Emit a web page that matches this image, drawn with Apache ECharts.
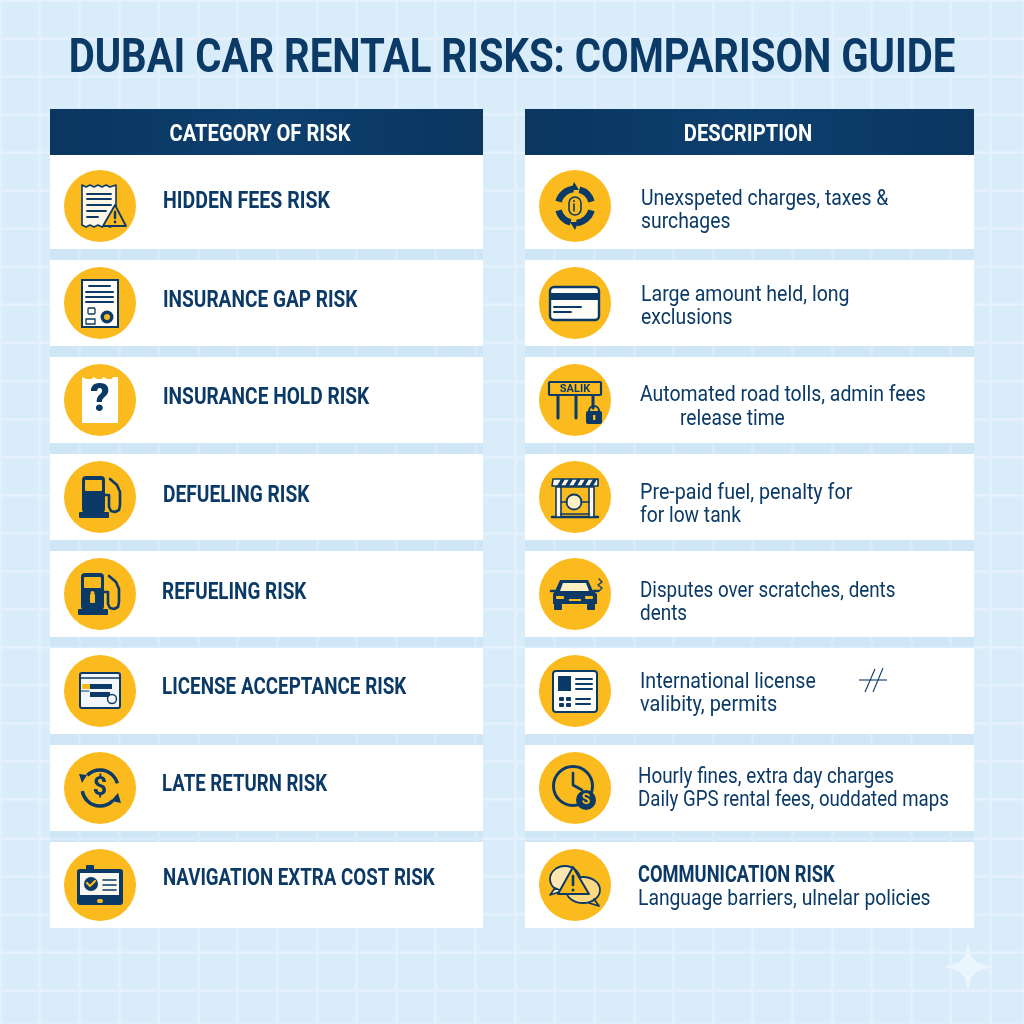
<!DOCTYPE html>
<html>
<head>
<meta charset="utf-8">
<title>Dubai Car Rental Risks</title>
<style>
html, body { margin: 0; padding: 0; background: #d8ecfa; }
#main { width: 1024px; height: 1024px; }
</style>
<script src="https://cdn.jsdelivr.net/npm/echarts@6/dist/echarts.min.js"></script>
</head>
<body>
<div id="main"></div>
<script>
var chartTitle = 'DUBAI CAR RENTAL RISKS: COMPARISON GUIDE';
var leftHeader = 'CATEGORY OF RISK';
var rightHeader = 'DESCRIPTION';

var riskCategories = [
    'HIDDEN FEES RISK',
    'INSURANCE GAP RISK',
    'INSURANCE HOLD RISK',
    'DEFUELING RISK',
    'REFUELING RISK',
    'LICENSE ACCEPTANCE RISK',
    'LATE RETURN RISK',
    'NAVIGATION EXTRA COST RISK'
];
var descriptionFirstLines = [
    'Unexspeted charges, taxes &',
    'Large amount held, long',
    'Automated road tolls, admin fees',
    'Pre-paid fuel, penalty for',
    'Disputes over scratches, dents',
    'International license',
    'Hourly fines, extra day charges',
    'COMMUNICATION RISK'
];
var descriptionSecondLines = [
    'surchages',
    'exclusions',
    'release time',
    'for low tank',
    'dents',
    'valibity, permits',
    'Daily GPS rental fees, ouddated maps',
    'Language barriers, ulnelar policies'
];
var leftIcons = ['receipt', 'policy', 'question', 'pump', 'pump2', 'card', 'money', 'device'];
var rightIcons = ['target', 'credit', 'salik', 'barrier', 'car', 'idcard', 'clock', 'chat'];

// text offsets of each row (pixels from the row centre / column left)
var leftTextX = [113, 113, 113, 113, 112, 112, 112, 113];
var leftTextDy = [-4, -2, -2, -1, -1, -3, -3, -6];
var leftTextScale = [0.85, 0.83, 0.832, 0.834, 0.823, 0.82, 0.81, 0.813];
var rightFirstDy = [-6, -7, -4, -3, -2, -8, -10, -9];
var rightSecondDy = [17, 16, 20, 20, 21, 15, 13, 15];
var rightFirstX = [116, 116, 115, 115, 115, 115, 113, 113];
var rightSecondX = [116, 116, 155, 115, 115, 115, 113, 113];
var rightFirstScale = [0.90, 0.908, 0.904, 0.916, 0.874, 0.91, 0.877, 0.795];
var rightSecondScale = [0.90, 0.90, 0.894, 0.895, 0.88, 0.925, 0.868, 0.897];

var NAVY = '#0b3a66';
var YELLOW = '#fbbb1f';
var WHITE = '#ffffff';
var FONT = 'Roboto';

function R(x, y, w, h, fill, stroke, lw, r) {
    return { type: 'rect', shape: { x: x, y: y, width: w, height: h, r: r || 0 },
        style: { fill: fill || 'none', stroke: stroke || 'none', lineWidth: lw || 0 } };
}
function C(cx, cy, r, fill, stroke, lw) {
    return { type: 'circle', shape: { cx: cx, cy: cy, r: r },
        style: { fill: fill || 'none', stroke: stroke || 'none', lineWidth: lw || 0 } };
}
function L(x1, y1, x2, y2, lw, color) {
    return { type: 'line', shape: { x1: x1, y1: y1, x2: x2, y2: y2 },
        style: { stroke: color || NAVY, lineWidth: lw || 2, lineCap: 'round' } };
}
function PG(points, fill, stroke, lw) {
    return { type: 'polygon', shape: { points: points },
        style: { fill: fill || 'none', stroke: stroke || 'none', lineWidth: lw || 0, lineJoin: 'round' } };
}
function PL(points, lw, color, smooth) {
    return { type: 'polyline', shape: { points: points, smooth: smooth || 0 },
        style: { fill: 'none', stroke: color || NAVY, lineWidth: lw || 2, lineCap: 'round', lineJoin: 'round' } };
}
function A(cx, cy, r, from, to, lw, color) {
    return { type: 'arc', shape: { cx: cx, cy: cy, r: r, startAngle: from * Math.PI / 180, endAngle: to * Math.PI / 180, clockwise: true },
        style: { fill: 'none', stroke: color || NAVY, lineWidth: lw || 2 } };
}
function T(x, y, text, size, weight, fill, scale, align) {
    return { type: 'text', x: x, y: y, scaleX: scale || 1,
        style: { text: text, fontSize: size, fontWeight: weight, fontFamily: FONT, fill: fill || NAVY,
            align: align || 'left', verticalAlign: 'middle', textAlign: align || 'left', textVerticalAlign: 'middle' } };
}

function pumpIcon(dx, detail) {
    var out = [
        R(dx - 18, -21, 23, 37, NAVY, null, 0, 4),
        R(dx - 21, 15, 30, 6, NAVY, null, 0, 1),
        R(dx - 15, -17, 17, 11, YELLOW, null, 0, 1),
        PL([[dx + 5, -2], [dx + 9, -2], [dx + 9, 10], [dx + 11, 14], [dx + 15, 15], [dx + 19, 13], [dx + 20, 8], [dx + 20, -5], [dx + 17, -12], [dx + 10, -18]], 2.6)
    ];
    if (detail) {
        out.push(R(dx - 9, 0, 5, 9, YELLOW, null, 0, 1));
        out.push(C(dx - 6.5, -1, 2, YELLOW));
    }
    return out;
}

var iconDraw = {
    receipt: function () {
        return [
            PG([[-18, -21], [-14, -19], [-10, -21], [-6, -19], [-2, -21], [2, -19], [6, -21], [10, -19], [16, -21], [16, 19], [10, 21], [6, 19], [2, 21], [-2, 19], [-6, 21], [-10, 19], [-14, 21], [-18, 19]], '#fff8e8', NAVY, 1.6),
            L(-13, -12, 11, -12, 1.8), L(-13, -7, 11, -7, 1.8), L(-13, -1, 11, -1, 1.8), L(-13, 5, 6, 5, 1.8), L(-13, 11, -2, 11, 1.8),
            PG([[15, -1], [26, 20], [3, 20]], YELLOW, NAVY, 1.8),
            L(15, 6, 15, 12, 2.4), C(15, 16, 1.4, NAVY)
        ];
    },
    policy: function () {
        return [
            R(-18, -23, 36, 47, '#fffdf8', NAVY, 2),
            L(-11, -17, 10, -17, 2), L(-14, -11, 13, -11, 2), L(-14, -6, 13, -6, 2), L(-14, -1, 13, -1, 2),
            R(-12, 5, 7, 6, null, NAVY, 1.3, 1), R(-14, 16, 9, 5, null, NAVY, 1.3),
            C(7, 14, 6.5, NAVY), C(7, 14, 3, YELLOW)
        ];
    },
    question: function () {
        return [
            PG([[-18, -23], [-14, -21], [-8, -21], [-7, -23], [-3, -21], [2, -21], [3, -23], [7, -21], [12, -21], [13, -23], [18, -23], [18, 23], [-18, 23]], WHITE),
            T(0, 1, '?', 38, 900, NAVY, 1, 'center')
        ];
    },
    pump: function () { return pumpIcon(0, false); },
    pump2: function () { return pumpIcon(-1, true); },
    card: function () {
        return [
            R(-20, -18, 40, 35, '#f2f5fa', NAVY, 2, 2),
            L(-19, -13, 19, -13, 1.6),
            R(-18, -7, 8, 5, YELLOW),
            R(-10, -7, 22, 5, NAVY),
            R(-10, 1, 20, 5, NAVY),
            C(12, 8, 4.5, '#f2f5fa', NAVY, 1.4),
            L(-19, 0, -11, 0, 1)
        ];
    },
    money: function () {
        return [
            A(0, 0, 18, 225, 345, 3.4),
            A(0, 0, 18, 45, 170, 3.4),
            PG([[-18, -5], [-13, -13], [-21, -14]], NAVY),
            PG([[18, 5], [11, 13], [21, 15]], NAVY),
            T(0, 1, '$', 25, 700, NAVY, 1, 'center')
        ];
    },
    device: function () {
        return [
            R(-14, -20, 8, 6, NAVY, null, 0, 1),
            R(-23, -16, 46, 36, NAVY, null, 0, 3),
            R(-20, -12, 39, 22, '#f8f7f0'),
            C(-9, -1, 7, NAVY),
            PL([[-13, -2], [-10, 1], [-5, -4]], 2.2, YELLOW),
            L(3, -5, 16, -5, 1.6), L(3, 0, 16, 0, 1.6), L(3, 5, 16, 5, 1.6),
            R(-3, 14, 6, 4, YELLOW, null, 0, 2)
        ];
    },
    target: function () {
        return [
            A(0, 0, 17, 195, 265, 6.5), A(0, 0, 17, 285, 345, 6.5), A(0, 0, 17, 15, 85, 6.5), A(0, 0, 17, 105, 165, 6.5),
            PG([[-1, -24], [4, -16], [-4, -16]], NAVY),
            PG([[0, 24], [-5, 16], [3, 16]], NAVY),
            L(-21, 0, -11, 0, 1.6, YELLOW), L(11, 0, 21, 0, 1.6, YELLOW),
            R(-6, -9, 12, 18, YELLOW, NAVY, 1.6, 6),
            L(-1, -2, -1, 5, 1.6), C(-1, -5, 1, NAVY)
        ];
    },
    credit: function () {
        return [
            R(-25, -16, 49, 33, '#fffdf8', NAVY, 2.4, 4),
            R(-24, -10, 47, 7, NAVY),
            L(-21, 4, 6, 4, 2), L(-21, 9, -4, 9, 2)
        ];
    },
    salik: function () {
        return [
            L(-17, -5, -17, 18, 3), L(1, -5, 1, 18, 3), L(18, -5, 18, 8, 3),
            R(-26, -18, 52, 13, YELLOW, NAVY, 2.2, 1),
            T(0, -11, 'SALIK', 11, 700, NAVY, 1, 'center'),
            A(19, 11, 5, 180, 360, 2),
            R(11, 11, 16, 13, NAVY, null, 0, 2),
            R(18, 15, 2.4, 5, YELLOW)
        ];
    },
    barrier: function () {
        var out = [
            L(-23, 20, 23, 20, 2.4),
            R(-19, -10, 5, 30, '#fff8e8', NAVY, 1.6),
            R(14, -10, 5, 30, '#fff8e8', NAVY, 1.6),
            L(-14, -10, 14, -10, 1.6),
            L(-14, 17, 14, 17, 1.6),
            C(-1, 5, 7.5, '#fff1c4', NAVY, 1.8),
            L(-14, 5, -8, 5, 1.6), L(6, 5, 14, 5, 1.6),
            PG([[-22, -18], [23, -18], [23, -11], [-23, -11]], '#fff8e8', NAVY, 1.6)
        ];
        var stripeX = [-18, -10, -2, 6, 14];
        for (var i = 0; i < stripeX.length; i++) {
            out.push(PG([[stripeX[i], -11], [stripeX[i] + 4, -11], [stripeX[i] + 8, -18], [stripeX[i] + 4, -18]], NAVY));
        }
        return out;
    },
    car: function () {
        return [
            PG([[-15, -14], [13, -14], [18, -3], [22, 0], [22, 10], [-22, 10], [-22, 0], [-20, -3]], NAVY),
            PG([[-12, -11], [11, -11], [14, -3], [-15, -3]], '#fff1c4'),
            R(-21, 10, 8, 6, NAVY, null, 0, 1),
            R(12, 10, 8, 6, NAVY, null, 0, 1),
            L(-24, -3, -20, -3, 2.6), L(19, -3, 23, -3, 2.6),
            R(-19, 2, 8, 3, YELLOW, null, 0, 1),
            R(10, 2, 8, 3, YELLOW, null, 0, 1),
            R(-6, 5, 12, 2, YELLOW),
            PL([[24, -15], [27, -12], [23, -9], [27, -6], [24, -3]], 1.4)
        ];
    },
    idcard: function () {
        return [
            R(-22, -20, 44, 41, '#fffdf8', NAVY, 2, 3),
            R(-17, -15, 13, 15, NAVY),
            L(1, -12, 17, -12, 2), L(1, -7, 17, -7, 2), L(1, -2, 17, -2, 2),
            R(-16, 6, 5, 4, NAVY, null, 0, 1), R(-9, 6, 5, 4, NAVY, null, 0, 1),
            R(-16, 12, 5, 4, NAVY, null, 0, 1), R(-9, 12, 5, 4, NAVY, null, 0, 1),
            L(1, 8, 15, 8, 2), L(1, 13, 15, 13, 2)
        ];
    },
    clock: function () {
        return [
            C(-2, -2, 19.5, null, NAVY, 3),
            PL([[-2, -15], [-2, -3], [7, 2]], 2.6),
            C(11, 12, 10, NAVY),
            T(11, 12.5, 'S', 14, 700, YELLOW, 1, 'center')
        ];
    },
    chat: function () {
        return [
            { type: 'ellipse', shape: { cx: 8, cy: 5, rx: 17, ry: 13 }, style: { fill: 'rgba(255,255,255,.45)', stroke: NAVY, lineWidth: 1.8 } },
            PL([[19, 14], [24, 21], [14, 18]], 1.8),
            { type: 'ellipse', shape: { cx: -10, cy: -6, rx: 15, ry: 13 }, style: { fill: 'rgba(255,255,255,.65)', stroke: NAVY, lineWidth: 1.8 } },
            PG([[-20, 3], [-25, 10], [-13, 6]], '#fde9b5', NAVY, 1.6),
            PG([[-2, -18], [14, 9], [-17, 9]], YELLOW, NAVY, 2),
            L(-2, -9, -2, 0, 2.6), C(-2, 5, 1.5, NAVY)
        ];
    }
};

function gridRow(column) {
    return function (params, api) {
        var i = api.value(1);
        var p = api.coord([0, i]);
        var right = api.coord([column.width, i])[0];
        var top = p[1] - 43 - (i === 0 ? 8 : 0);
        var icon = column.icons[i];
        var children = [
            { type: 'rect', shape: { x: p[0], y: top, width: right - p[0], height: p[1] + 43 - top }, style: { fill: WHITE } },
            { type: 'circle', shape: { cx: p[0] + column.circleX, cy: p[1], r: 36 }, style: { fill: YELLOW } },
            { type: 'group', x: p[0] + column.circleX, y: p[1], children: iconDraw[icon]() }
        ];
        column.texts(i, p).forEach(function (t) { children.push(t); });
        return { type: 'group', children: children };
    };
}

var leftColumn = {
    width: 433, circleX: 50, icons: leftIcons,
    texts: function (i, p) {
        return [T(p[0] + leftTextX[i], p[1] + leftTextDy[i], riskCategories[i], 23, 700, NAVY, leftTextScale[i])];
    }
};
var rightColumn = {
    width: 449, circleX: 50, icons: rightIcons,
    texts: function (i, p) {
        var bold = descriptionFirstLines[i] === descriptionFirstLines[i].toUpperCase();
        return [
            T(p[0] + rightFirstX[i], p[1] + rightFirstDy[i], descriptionFirstLines[i], bold ? 23 : 21.5, bold ? 700 : 400, NAVY, rightFirstScale[i]),
            T(p[0] + rightSecondX[i], p[1] + rightSecondDy[i], descriptionSecondLines[i], 21.5, 400, NAVY, rightSecondScale[i])
        ];
    }
};

function rowData() {
    return riskCategories.map(function (name, i) { return [0, i]; });
}

function hiddenY(gridIndex) {
    return { type: 'category', gridIndex: gridIndex, inverse: true, data: riskCategories, show: false };
}

var headerFill = function () {
    return new echarts.graphic.LinearGradient(0, 0, 1, 0, [{ offset: 0, color: '#0a365f' }, { offset: 0.5, color: '#0d3f6e' }, { offset: 1, color: '#0a365f' }]);
};

var chart = echarts.init(document.getElementById('main'), null, { renderer: 'canvas' });

chart.setOption({
    backgroundColor: '#d8ecfa',
    animation: false,
    tooltip: { show: false },
    grid: [
        // background tile lines
        { left: -10, top: -3.2, width: 1034, height: 1027.2, show: false },
        { left: 50, top: 157.5, width: 433, height: 776 },
        { left: 525, top: 157.5, width: 449, height: 776 }
    ],
    xAxis: [
        { type: 'value', gridIndex: 0, min: -40, max: 994, interval: 40, axisLabel: { show: false }, axisLine: { show: false }, axisTick: { show: false },
            splitLine: { show: true, lineStyle: { color: '#e5f2fc', width: 2.5 } } },
        { type: 'value', gridIndex: 1, min: 0, max: 433, show: false },
        { type: 'value', gridIndex: 2, min: 0, max: 449, show: false }
    ],
    yAxis: [
        { type: 'value', gridIndex: 0, inverse: true, min: -38.2, max: 989, interval: 38.2, axisLabel: { show: false }, axisLine: { show: false }, axisTick: { show: false },
            splitLine: { show: true, lineStyle: { color: '#e5f2fc', width: 2.5 } } },
        hiddenY(1),
        hiddenY(2)
    ],
    graphic: [
        // darker strip that shows through between the rows
        { type: 'rect', z: 1, shape: { x: 50, y: 155, width: 433, height: 772 }, style: { fill: 'rgba(150,195,230,0.13)' } },
        { type: 'rect', z: 1, shape: { x: 525, y: 155, width: 449, height: 772 }, style: { fill: 'rgba(150,195,230,0.13)' } },
        { type: 'rect', z: 5, shape: { x: 50, y: 109, width: 433, height: 46 }, style: { fill: headerFill() } },
        { type: 'rect', z: 5, shape: { x: 525, y: 109, width: 449, height: 46 }, style: { fill: headerFill() } },
        { type: 'text', z: 6, x: 260, y: 135, scaleX: 0.84, style: { text: leftHeader, fontSize: 24, fontWeight: 700, fontFamily: FONT, fill: WHITE, align: 'center', verticalAlign: 'middle' } },
        { type: 'text', z: 6, x: 748, y: 135, scaleX: 0.84, style: { text: rightHeader, fontSize: 24, fontWeight: 700, fontFamily: FONT, fill: WHITE, align: 'center', verticalAlign: 'middle' } },
        { type: 'text', z: 6, x: 512, y: 60, scaleX: 0.818, style: { text: chartTitle, fontSize: 49, fontWeight: 700, fontFamily: FONT, fill: '#0b3a66', align: 'center', verticalAlign: 'middle' } },
        // corner sparkle
        { type: 'polygon', z: 2, x: 968, y: 967, shape: { points: [[0, -24], [3, -11], [8, -5], [24, 0], [8, 5], [3, 11], [0, 24], [-3, 11], [-8, 5], [-24, 0], [-8, -5], [-3, -11]] },
            style: { fill: '#eaf5fd' } },
        // stray pen mark in the licence row
        { type: 'line', z: 8, shape: { x1: 859, y1: 680, x2: 887, y2: 680 }, style: { stroke: NAVY, lineWidth: 1.1 } },
        { type: 'line', z: 8, shape: { x1: 875, y1: 669, x2: 865, y2: 692 }, style: { stroke: NAVY, lineWidth: 1.1 } },
        { type: 'line', z: 8, shape: { x1: 883, y1: 668, x2: 873, y2: 692 }, style: { stroke: NAVY, lineWidth: 1.1 } }
    ],
    series: [
        { type: 'custom', xAxisIndex: 1, yAxisIndex: 1, z: 3, clip: false, encode: { x: 0, y: 1 }, data: rowData(), renderItem: gridRow(leftColumn) },
        { type: 'custom', xAxisIndex: 2, yAxisIndex: 2, z: 3, clip: false, encode: { x: 0, y: 1 }, data: rowData(), renderItem: gridRow(rightColumn) }
    ]
});

window.onresize = chart.resize;
</script>
</body>
</html>
